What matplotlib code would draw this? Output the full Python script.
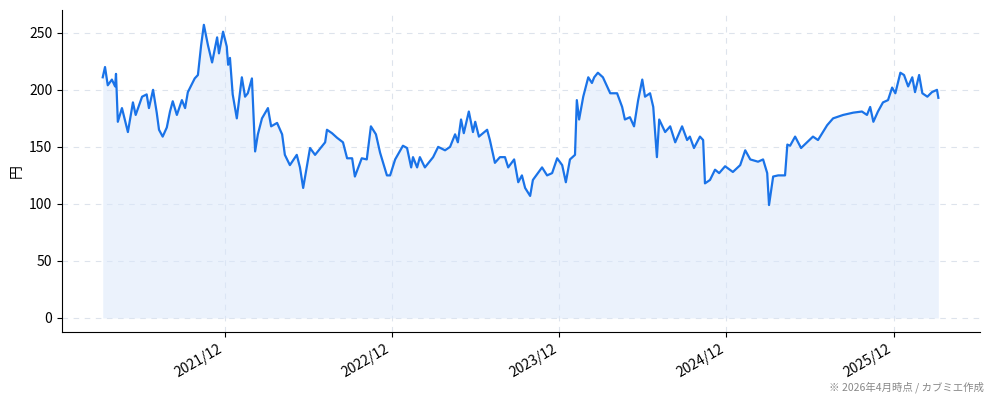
import matplotlib
matplotlib.use("Agg")
import matplotlib.pyplot as plt
import matplotlib.dates as mdates
import pandas as pd

plt.rcParams['font.family'] = ['Noto Sans CJK JP', 'DejaVu Sans']

# days relative to 2021-12-01
days = [-267, -262, -256, -247, -240, -238, -234, -225, -212, -201, -195, -181, -171, -166, -157,
        -149, -144, -136, -127, -120, -114, -105, -94, -87, -81, -66, -59, -52, -46, -37, -28, -17,
        -13, -4, 4, 7, 11, 17, 26, 37, 44, 50, 59, 66, 72, 81, 94, 101, 114, 125, 131, 142, 157,
        164, 171, 186, 197, 219, 223, 234, 245, 258, 267, 278, 284, 299, 310, 319, 330, 339, 354,
        361, 372, 389, 398, 407, 411, 420, 426, 437, 455, 466, 481, 492, 503, 509, 516, 522, 533,
        542, 547, 555, 573, 579, 590, 601, 612, 619, 632, 641, 649, 656, 667, 673, 693, 704, 715,
        726, 737, 745, 754, 765, 769, 774, 783, 794, 802, 807, 815, 826, 842, 857, 868, 874, 885,
        894, 903, 912, 918, 929, 936, 944, 949, 962, 973, 984, 999, 1010, 1016, 1025, 1038, 1045,
        1049, 1060, 1071, 1080, 1093, 1110, 1126, 1137, 1148, 1165, 1176, 1185, 1189, 1198, 1209,
        1224, 1229, 1235, 1246, 1259, 1272, 1285, 1296, 1316, 1329, 1351, 1373, 1392, 1403, 1410,
        1417, 1427, 1438, 1449, 1458, 1465, 1476, 1484, 1493, 1502, 1508, 1517, 1524, 1535, 1545,
        1556, 1559]
prices = [211, 220, 204, 209, 203, 214, 172, 184, 163, 189, 178, 194, 196, 184, 200, 180, 165,
          159, 167, 181, 190, 178, 191, 184, 198, 210, 213, 239, 257, 239, 224, 246, 232, 251,
          238, 222, 228, 196, 175, 211, 194, 197, 210, 146, 161, 175, 184, 168, 171, 161, 143,
          134, 143, 132, 114, 149, 143, 154, 165, 162, 158, 154, 140, 140, 124, 140, 139, 168,
          161, 145, 125, 125, 139, 151, 149, 132, 141, 132, 141, 132, 141, 150, 147, 150, 161,
          154, 174, 162, 181, 163, 172, 159, 165, 156, 136, 141, 141, 132, 139, 119, 125, 114,
          107, 121, 132, 125, 127, 140, 134, 119, 139, 143, 191, 174, 194, 211, 206, 211, 215,
          211, 197, 197, 185, 174, 176, 168, 191, 209, 194, 197, 185, 141, 174, 163, 168, 154,
          168, 156, 159, 149, 159, 156, 118, 121, 130, 127, 133, 128, 134, 147, 139, 137, 139,
          127, 99, 124, 125, 125, 152, 151, 159, 149, 154, 159, 156, 169, 175, 178, 180, 181,
          178, 185, 172, 181, 189, 191, 202, 197, 215, 213, 203, 211, 198, 213, 197, 194, 198,
          200, 193]
dates = pd.Timestamp("2021-12-01") + pd.to_timedelta(days, unit="D")
tick_dates = pd.to_datetime(["2021-12-01", "2022-12-01", "2023-12-01", "2024-12-01", "2025-12-01"])

fig = plt.figure(figsize=(9.94, 4.01), dpi=100)
ax = fig.add_axes([62/994, 1-332/401, (980-62)/994, (332-10)/401])
color = "#1a73e8"
ax.fill_between(dates, prices, 0, color="#dbe8fb", alpha=0.55, linewidth=0)
ax.plot(dates, prices, color=color, linewidth=1.6)
ax.set_ylim(-12.3, 270)
ax.set_xlim(pd.Timestamp("2020-12-10"), pd.Timestamp("2026-06-08"))
ax.set_yticks([0, 50, 100, 150, 200, 250])
ax.set_xticks(tick_dates)
ax.xaxis.set_major_formatter(mdates.DateFormatter("%Y/%m"))
plt.setp(ax.get_xticklabels(), rotation=30, ha="right")
ax.tick_params(labelsize=10)
ax.grid(True, linestyle=(0, (5, 5)), color="#dde3ec", linewidth=0.8)
ax.set_axisbelow(True)
for s in ["top", "right"]:
    ax.spines[s].set_visible(False)
ax.set_ylabel("円", fontsize=10)
fig.text(0.99, 0.02, "※ 2026年4月時点 / カブミエ作成", ha="right", va="bottom", fontsize=7.5, color="#888888")
fig.savefig("out.png", dpi=100)
